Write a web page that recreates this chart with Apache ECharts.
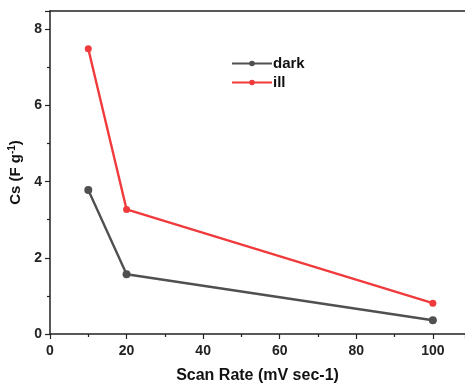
<!DOCTYPE html>
<html><head><meta charset="utf-8">
<script src="https://cdn.jsdelivr.net/npm/echarts@6/dist/echarts.min.js"></script>
<style>html,body{margin:0;padding:0;background:#fff}#c{width:465px;height:385px}</style>
</head><body><div id="c"></div>
<script>
const scanRates = [10, 20, 100];
const darkValues = [3.78, 1.57, 0.36];
const illValues = [7.49, 3.27, 0.81];
const seriesNames = ['dark', 'ill'];

const font = 'Liberation Sans, Arial, sans-serif';
const chart = echarts.init(document.getElementById('c'), null, {renderer: 'canvas'});
const axisCol = '#222';
chart.setOption({
  animation: false,
  grid: {left: 50, right: 0, top: 11, bottom: 51, containLabel: false, outerBoundsMode: 'none'},
  legend: {
    left: 226, top: 51, orient: 'vertical', itemGap: 4, itemWidth: 40, itemHeight: 7,
    textStyle: {fontFamily: font, fontWeight: 'bold', fontSize: 15, color: '#111', padding: [0,0,0,-4]},
    data: seriesNames
  },
  xAxis: [{
    type: 'value', min: 0, max: 108.4, interval: 20,
    name: 'Scan Rate (mV sec-1)', nameLocation: 'middle', nameGap: 34,
    nameTextStyle: {fontFamily: font, fontWeight: 'bold', fontSize: 16, color: '#111'},
    axisLine: {show: true, onZero: false, lineStyle: {color: axisCol, width: 1.5}},
    axisTick: {show: true, inside: false, length: 5, lineStyle: {color: axisCol, width: 1.2}},
    minorTick: {show: true, splitNumber: 2, length: 3, lineStyle: {color: axisCol, width: 1.2}},
    axisLabel: {fontFamily: font, fontWeight: 'bold', fontSize: 14, color: '#222', margin: 10, showMaxLabel: false},
    splitLine: {show: false}
  }, {
    type: 'value', position: 'top', min: 0, max: 108.4,
    axisLine: {show: true, onZero: false, lineStyle: {color: axisCol, width: 1.5}},
    axisTick: {show: false}, axisLabel: {show: false}, splitLine: {show: false}
  }],
  yAxis: {
    type: 'value', min: 0, max: 8.48, interval: 2,
    name: '{a|Cs (F g}{s|-1}{a|)}', nameLocation: 'middle', nameGap: 24,
    nameTextStyle: {rich: {
      a: {fontFamily: font, fontWeight: 'bold', fontSize: 15, color: '#111'},
      s: {fontFamily: font, fontWeight: 'bold', fontSize: 10, color: '#111', verticalAlign: 'top', padding: [0,0,8,0]}
    }},
    axisLine: {show: true, onZero: false, lineStyle: {color: axisCol, width: 1.5}},
    axisTick: {show: true, inside: false, length: 5, lineStyle: {color: axisCol, width: 1.2}},
    minorTick: {show: true, splitNumber: 2, length: 3, lineStyle: {color: axisCol, width: 1.2}},
    axisLabel: {fontFamily: font, fontWeight: 'bold', fontSize: 14, color: '#222', margin: 8,
      formatter: v => (Math.abs(v - Math.round(v)) < 1e-6 ? String(v) : '')},
    splitLine: {show: false}
  },
  series: [{
    name: seriesNames[0], type: 'line', xAxisIndex: 0,
    data: scanRates.map((x, i) => [x, darkValues[i]]),
    symbol: 'circle', symbolSize: 8,
    lineStyle: {color: '#505050', width: 2.4}, itemStyle: {color: '#505050'}
  }, {
    name: seriesNames[1], type: 'line', xAxisIndex: 0,
    data: scanRates.map((x, i) => [x, illValues[i]]),
    symbol: 'circle', symbolSize: 7,
    lineStyle: {color: '#f03a3c', width: 2.4}, itemStyle: {color: '#f03a3c'}
  }]
});
</script></body></html>
